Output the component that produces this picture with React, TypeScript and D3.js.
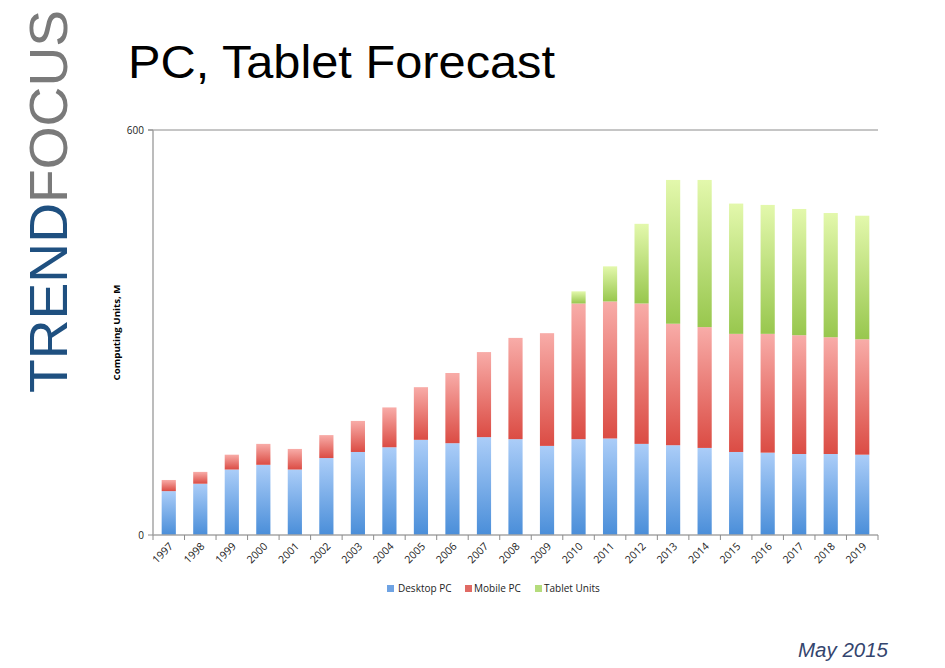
import React from "react";
import * as d3 from "d3";

const years = ["1997","1998","1999","2000","2001","2002","2003","2004","2005","2006","2007","2008","2009","2010","2011","2012","2013","2014","2015","2016","2017","2018","2019"];
const desktopPC = [65, 76, 97, 104, 97, 114, 123, 130, 141, 136, 145, 142, 132, 142, 143, 135, 133, 129, 123, 122, 120, 120, 119];
const mobilePC = [16.5, 17.5, 22, 31, 30.5, 34, 46, 59, 78, 104, 126, 150, 167, 201, 203, 208, 180, 179, 175, 176, 176, 173, 171];
const tabletUnits = [0, 0, 0, 0, 0, 0, 0, 0, 0, 0, 0, 0, 0, 18, 52, 118, 213, 218, 193, 191, 187, 184, 183];
const seriesNames = ["Desktop PC", "Mobile PC", "Tablet Units"];
const yTicks = [0, 600];

const W = 945, H = 668;
const plot = { left: 153, right: 878, top: 130, bottom: 535 };

const grads = [
  { id: "gDesk", top: "#abcdf8", bottom: "#4a8ed9", legend: "#6fa3e3" },
  { id: "gMob", top: "#f8aca8", bottom: "#db4c44", legend: "#e06a64" },
  { id: "gTab", top: "#e3f8ac", bottom: "#98c74e", legend: "#b5dc7c" },
];

export default function App() {
  const x = d3.scaleBand<string>().domain(years).range([plot.left, plot.right]).paddingInner(0.55).paddingOuter(0.275);
  const y = d3.scaleLinear().domain([0, 600]).range([plot.bottom, plot.top]);
  const rows = years.map((yr, i) => ({ year: yr, d: desktopPC[i], m: mobilePC[i], t: tabletUnits[i] }));
  const stack = d3.stack<any>().keys(["d", "m", "t"]);
  const layers = stack(rows);
  const step = x.step();
  const legendX = [387, 465, 535];
  const legendTextX = [398, 474, 544];

  return (
    <svg width={W} height={H} style={{ position: "fixed", left: 0, top: 0, background: "#fff" }}>
      <defs>
        {grads.map((g) => (
          <linearGradient key={g.id} id={g.id} x1="0" y1="0" x2="0" y2="1">
            <stop offset="0" stopColor={g.top} />
            <stop offset="1" stopColor={g.bottom} />
          </linearGradient>
        ))}
      </defs>
      <rect x={0} y={0} width={W} height={H} fill="#fff" />

      {/* vertical logo */}
      <text transform="translate(67,393) rotate(-90)" fontFamily="'Liberation Sans', Arial, sans-serif" fontSize={53} fontWeight={300} textLength={383} lengthAdjust="spacingAndGlyphs">
        <tspan fill="#1f5080">TREND</tspan>
        <tspan fill="#7a7a7a">FOCUS</tspan>
      </text>

      {/* title */}
      <text x={128} y={78} fontFamily="'Liberation Sans', Arial, sans-serif" fontSize={46} fill="#000" textLength={427} lengthAdjust="spacingAndGlyphs">PC, Tablet Forecast</text>

      {/* top gridline */}
      <line x1={plot.left - 5} x2={plot.right} y1={y(600)} y2={y(600)} stroke="#8c8c8c" strokeWidth={1} />

      {/* bars */}
      {layers.map((layer, li) => (
        <g key={li}>
          {layer.map((seg: any, i: number) => {
            const h = y(seg[0]) - y(seg[1]);
            if (h <= 0) return null;
            return (
              <rect key={i} x={x(years[i])} y={y(seg[1])} width={x.bandwidth()} height={h} fill={`url(#${grads[li].id})`} />
            );
          })}
        </g>
      ))}

      {/* axes */}
      <line x1={plot.left} x2={plot.left} y1={plot.top} y2={plot.bottom} stroke="#a6a6a6" strokeWidth={1.5} />
      <line x1={plot.left} x2={plot.right} y1={plot.bottom} y2={plot.bottom} stroke="#a6a6a6" strokeWidth={1.5} />
      {yTicks.map((t) => (
        <g key={t}>
          <line x1={plot.left - 5} x2={plot.left} y1={y(t)} y2={y(t)} stroke="#8c8c8c" />
          <text x={plot.left - 9} y={y(t) + 3.5} textAnchor="end" fontFamily="'Open Sans', sans-serif" fontSize={10} fill="#222">{t}</text>
        </g>
      ))}
      {d3.range(years.length + 1).map((i) => (
        <line key={i} x1={plot.left + i * step} x2={plot.left + i * step} y1={plot.bottom} y2={plot.bottom + 5} stroke="#8c8c8c" />
      ))}
      {years.map((yr) => {
        const cx = (x(yr) as number) + x.bandwidth() / 2;
        return (
          <text key={yr} transform={`translate(${cx + 5},${plot.bottom + 12}) rotate(-45)`} textAnchor="end" fontFamily="'Open Sans', sans-serif" fontSize={10.5} fill="#222">{yr}</text>
        );
      })}

      {/* y label */}
      <text transform={`translate(120,${(plot.top + plot.bottom) / 2}) rotate(-90)`} textAnchor="middle" fontFamily="'Open Sans', sans-serif" fontSize={8} fontWeight="bold" fill="#000" textLength={96} lengthAdjust="spacingAndGlyphs">Computing Units, M</text>

      {/* legend */}
      {seriesNames.map((n, i) => (
        <g key={n}>
          <rect x={legendX[i]} y={585} width={7} height={7} fill={grads[i].legend} />
          <text x={legendTextX[i]} y={592} fontFamily="'Open Sans', sans-serif" fontSize={10} fill="#222">{n}</text>
        </g>
      ))}

      {/* date */}
      <text x={798} y={657} fontFamily="'Liberation Sans', Arial, sans-serif" fontStyle="italic" fontSize={20} fill="#34456e" textLength={90} lengthAdjust="spacingAndGlyphs">May 2015</text>
    </svg>
  );
}
